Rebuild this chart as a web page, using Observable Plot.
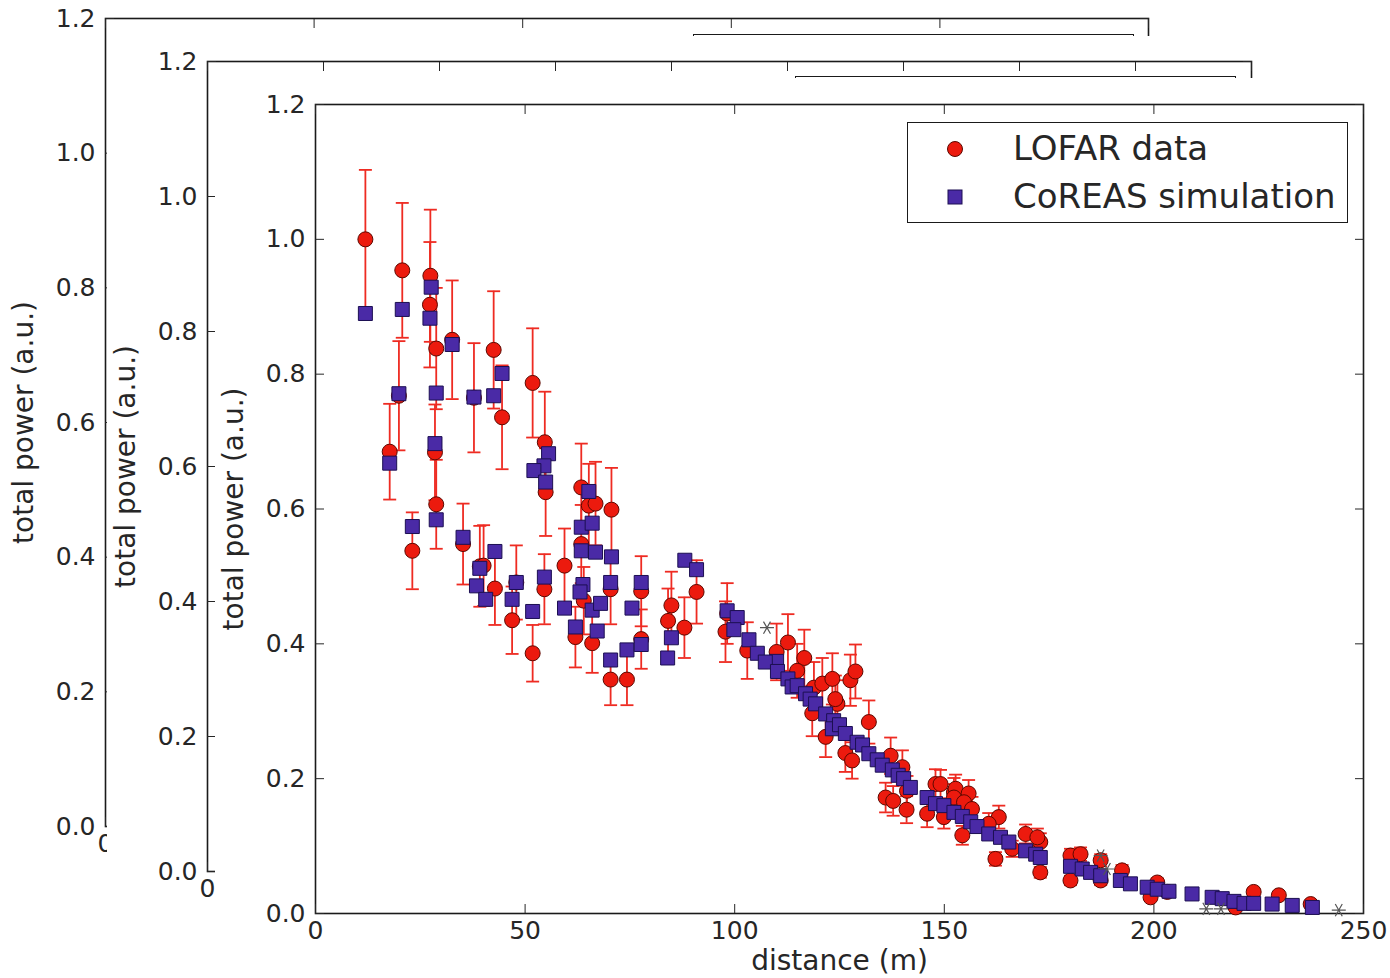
<!DOCTYPE html>
<html><head><meta charset="utf-8">
<script src="https://cdn.jsdelivr.net/npm/d3@7"></script>
<script src="https://cdn.jsdelivr.net/npm/@observablehq/plot@0.6"></script>
<style>
body{margin:0;background:#fff;font-family:"DejaVu Sans",sans-serif;}
#root{position:relative;width:1390px;height:978px;overflow:hidden;background:#fff;}
.panel{position:absolute;background:#fff;overflow:hidden;}
.panel svg{display:block;}
.legend{position:absolute;border:1.6px solid #1a1a1a;background:#fff;box-sizing:border-box;}
</style></head><body><div id="root"></div>
<script>
// ---------- data ----------
const lofarDistance = [11.9,20.7,27.4,27.3,28.8,32.6,42.5,44.5,51.8,19.9,37.8,17.7,28.5,28.8,23.1,35.2,39.2,40.1,42.8,46.9,47.9,51.8,54.7,54.9,54.6,59.4,63.4,65.2,66.8,63.4,70.6,64.0,62.0,66.0,70.4,70.4,74.3,77.7,77.7,84.9,84.1,88.0,90.9,
  97.8,98.2,103.0,110.0,112.7,116.6,118.9,120.9,123.3,124.5,127.6,128.8,118.5,121.7,132.0,126.4,128.0,137.2,136.0,137.8,141.0,140.0,124.0,114.9,141.1,145.9,147.9,152.3,
  149.1,152.7,155.8,152.3,154.7,156.6,149.9,154.3,163.0,160.6,162.2,169.4,172.9,172.9,166.2,172.2,180.1,182.5,180.1,187.3,187.3,192.4,200.8,199.2,203.2,223.8,219.5,229.8,237.4];
const lofarPower = [1.00,0.954,0.946,0.903,0.838,0.851,0.836,0.736,0.787,0.768,0.765,0.685,0.684,0.607,0.538,0.548,0.515,0.516,0.482,0.435,0.491,0.386,0.699,0.625,0.481,0.516,0.632,0.605,0.608,0.548,0.599,0.464,0.410,0.401,0.481,0.347,0.347,0.478,0.407,0.457,0.434,0.424,0.477,
  0.418,0.445,0.390,0.388,0.402,0.379,0.335,0.341,0.348,0.311,0.346,0.359,0.297,0.262,0.284,0.238,0.227,0.234,0.172,0.167,0.154,0.217,0.318,0.360,0.182,0.148,0.192,0.180,
  0.192,0.185,0.178,0.172,0.165,0.155,0.143,0.116,0.143,0.133,0.081,0.118,0.106,0.061,0.096,0.113,0.086,0.088,0.049,0.079,0.049,0.064,0.046,0.024,0.032,0.032,0.009,0.027,0.014];
const lofarError = [0.103,0.100,0.098,0.093,0.090,0.088,0.087,0.077,0.081,0.081,0.081,0.071,0.071,0.066,0.057,0.060,0.060,0.060,0.054,0.050,0.055,0.042,0.075,0.065,0.052,0.055,0.065,0.062,0.062,0.058,0.062,0.050,0.045,0.044,0.052,0.038,0.038,0.052,0.044,0.050,0.048,0.045,0.047,
  0.045,0.045,0.042,0.042,0.042,0.042,0.038,0.038,0.038,0.035,0.038,0.040,0.034,0.030,0.032,0.028,0.027,0.027,0.022,0.022,0.020,0.025,0.035,0.040,0.022,0.020,0.022,0.021,
  0.021,0.021,0.020,0.020,0.019,0.018,0.017,0.014,0.017,0.016,0.010,0.014,0.013,0.008,0.012,0.013,0.010,0.010,0.007,0.009,0.007,0.008,0.006,0.004,0.005,0.005,0.002,0.004,0.003];

const coreasDistance = [11.9,20.7,27.6,27.3,28.8,32.6,42.5,44.5,19.9,37.8,17.7,28.5,28.8,23.1,35.2,39.2,42.8,38.4,40.6,47.9,46.9,51.8,55.6,54.5,52.1,54.9,54.6,59.4,65.2,63.4,66.0,63.4,66.8,70.6,63.8,63.1,66.0,68.0,62.0,67.2,70.4,70.4,74.3,75.5,77.7,77.7,84.9,84.0,88.1,90.9,
  98.2,100.6,99.8,103.4,105.4,110.0,107.3,110.2,112.7,113.7,114.9,116.9,118.0,119.3,121.7,123.6,123.3,125.0,126.4,129.2,130.5,132.0,134.0,135.2,137.6,139.0,140.3,141.9,145.9,147.9,
  149.9,152.3,154.3,156.3,157.8,160.6,163.4,165.4,169.4,171.8,172.9,180.1,182.9,184.9,187.3,192.0,194.4,198.4,200.8,203.6,209.1,213.9,216.3,219.1,221.5,223.8,228.2,233.0,237.8];
const coreasPower = [0.890,0.896,0.929,0.883,0.772,0.844,0.768,0.801,0.771,0.766,0.668,0.697,0.584,0.574,0.558,0.512,0.537,0.486,0.466,0.491,0.466,0.448,0.682,0.664,0.657,0.640,0.499,0.453,0.626,0.573,0.579,0.538,0.536,0.529,0.488,0.477,0.450,0.460,0.425,0.419,0.491,0.376,0.391,0.453,0.491,0.399,0.409,0.379,0.524,0.510,
  0.449,0.439,0.421,0.406,0.386,0.374,0.373,0.359,0.348,0.336,0.338,0.326,0.318,0.311,0.296,0.286,0.274,0.280,0.267,0.254,0.250,0.237,0.228,0.220,0.213,0.205,0.200,0.187,0.172,0.163,
  0.160,0.150,0.144,0.136,0.129,0.118,0.113,0.106,0.093,0.088,0.083,0.070,0.066,0.061,0.056,0.049,0.044,0.039,0.036,0.033,0.029,0.024,0.022,0.018,0.015,0.015,0.014,0.012,0.009];

const excludedDistance = [107.7,187.3,188.8,212.5,216.0,244.1];
const excludedPower = [0.424,0.086,0.066,0.007,0.007,0.005];

const yTicks = [0,0.2,0.4,0.6,0.8,1.0,1.2];
const frontXTicks = [0,50,100,150,200,250];
const middleXTicks = [0,50,100,150,200,250,300,350,400,450];
const backXTicks = [0,50,100,150,200,250];
const legendLabels = ["LOFAR data","CoREAS simulation"];
const yLabel = "total power (a.u.)";
const xLabel = "distance (m)";

// ---------- build ----------
const lofar = lofarDistance.map((d,i)=>({distance:d, power:lofarPower[i], error:lofarError[i]}));
const coreas = coreasDistance.map((d,i)=>({distance:d, power:coreasPower[i]}));
const excluded = excludedDistance.map((d,i)=>({distance:d, power:excludedPower[i]}));

const RED = "#ec1a0e", RED_EDGE = "#5c0800", ERR = "#ee2b22";
const SQ = "#4a2aa6", SQ_EDGE = "#1c0f52", INK = "#262626";
const FONT = "DejaVu Sans";

const capSymbol = {draw(ctx, size){ const r = Math.sqrt(size/Math.PI); ctx.moveTo(-r,0); ctx.lineTo(r,0); }};
const asteriskSymbol = {draw(ctx, size){ const r = Math.sqrt(size/Math.PI);
  for (const a of [0, Math.PI/3, 2*Math.PI/3]) { ctx.moveTo(-r*Math.cos(a), -r*Math.sin(a)); ctx.lineTo(r*Math.cos(a), r*Math.sin(a)); } }};

function panelAxes(xTicks, withXLabel){
  const m = [
    Plot.frame({stroke:"#1a1a1a", strokeWidth:1.6}),
    Plot.axisY(yTicks, {anchor:"left", tickSize:-9, tickPadding:19, tickFormat:d=>d.toFixed(1), fontSize:25, label:null}),
    Plot.axisY(yTicks, {anchor:"right", tickSize:-9, tickFormat:()=>"", label:null}),
    Plot.axisX(xTicks, {anchor:"bottom", tickSize:-9, tickPadding:17, tickFormat:d=>String(d), fontSize:25, label:null}),
    Plot.axisX(xTicks, {anchor:"top", tickSize:-9, tickFormat:()=>"", label:null}),
    Plot.text([yLabel], {frameAnchor:"left", text:d=>d, rotate:-90, textAnchor:"middle", lineAnchor:"top", dx:-92, fontSize:28, fill:INK})
  ];
  if (withXLabel) m.push(Plot.text([xLabel], {frameAnchor:"bottom", text:d=>d, textAnchor:"middle", lineAnchor:"top", dy:37, fontSize:28, fill:INK}));
  return m;
}

function makePanel(cfg){
  const div = document.createElement("div");
  div.className = "panel";
  Object.assign(div.style, {left:cfg.left+"px", top:cfg.top+"px", width:cfg.width+"px", height:cfg.height+"px"});
  const chart = Plot.plot({
    width: cfg.width, height: cfg.height,
    marginTop: cfg.mt, marginLeft: cfg.ml, marginRight: cfg.mr, marginBottom: cfg.mb,
    x: {domain: cfg.xDomain}, y: {domain:[0,1.2]},
    style: {background:"white", fontFamily:FONT, color:INK, overflow:"visible"},
    marks: [...panelAxes(cfg.xTicks, cfg.xLabel), ...(cfg.data || [])]
  });
  div.appendChild(chart);
  // legend box
  const lg = document.createElement("div");
  lg.className = "legend";
  Object.assign(lg.style, {left:cfg.legend[0]+"px", top:cfg.legend[1]+"px", width:"441px", height:"101px"});
  if (cfg.legendContent) {
    const svg = d3.create("svg").attr("width",438).attr("height",98).style("display","block");
    svg.append("circle").attr("cx",47).attr("cy",26).attr("r",7.5).attr("fill",RED).attr("stroke",RED_EDGE);
    svg.append("rect").attr("x",40).attr("y",67).attr("width",14).attr("height",14).attr("fill",SQ).attr("stroke",SQ_EDGE);
    legendLabels.forEach((t,i)=>svg.append("text").attr("x",105).attr("y",25+48*i).attr("dy","0.36em")
      .attr("font-family",FONT).attr("font-size",34).attr("fill",INK).text(t));
    lg.appendChild(svg.node());
  }
  div.appendChild(lg);
  document.getElementById("root").appendChild(div);
}

const dataMarks = [
  Plot.ruleX(lofar, {x:"distance", y1:d=>d.power-d.error, y2:d=>d.power+d.error, stroke:ERR, strokeWidth:1.8}),
  Plot.dot(lofar, {x:"distance", y:d=>d.power+d.error, symbol:capSymbol, r:6.5, stroke:ERR, strokeWidth:1.8}),
  Plot.dot(lofar, {x:"distance", y:d=>d.power-d.error, symbol:capSymbol, r:6.5, stroke:ERR, strokeWidth:1.8}),
  Plot.dot(lofar, {x:"distance", y:"power", r:7.5, fill:RED, stroke:RED_EDGE, strokeWidth:1}),
  Plot.dot(coreas, {x:"distance", y:"power", symbol:"square", r:7.9, fill:SQ, stroke:SQ_EDGE, strokeWidth:1}),
  Plot.dot(excluded, {x:"distance", y:"power", symbol:asteriskSymbol, r:7, stroke:"#555", strokeWidth:1.2})
];

// back panel
makePanel({left:0, top:0, width:1390, height:978, mt:18, ml:105, mr:242, mb:152,
  xDomain:[0,250], xTicks:backXTicks, legend:[693,34]});
// middle panel
makePanel({left:107, top:36, width:1283, height:942, mt:25, ml:100, mr:139, mb:107,
  xDomain:[0,450], xTicks:middleXTicks, legend:[688,40]});
// front panel
makePanel({left:215, top:78, width:1175, height:900, mt:26, ml:100, mr:27, mb:65,
  xDomain:[0,250], xTicks:frontXTicks, xLabel:true, legend:[692,44], legendContent:true, data:dataMarks});
</script></body></html>
